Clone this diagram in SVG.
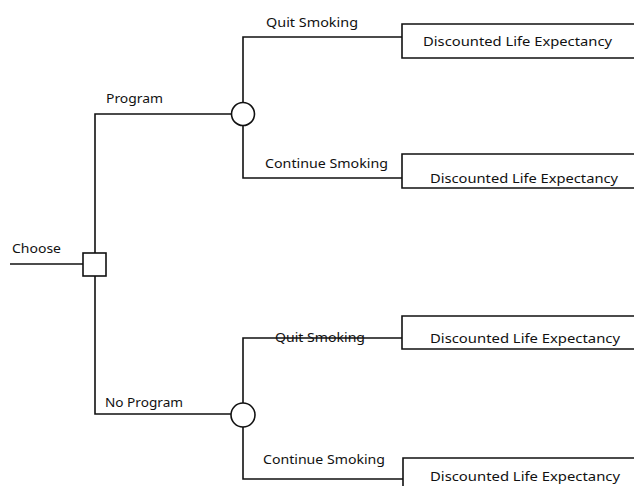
<svg xmlns="http://www.w3.org/2000/svg" width="634" height="486" viewBox="0 0 634 486">
<style>
.ln{fill:none;stroke:#111;stroke-width:1.6}
.nd{fill:#fff;stroke:#111;stroke-width:1.6}
text{font-family:"Noto Sans","Open Sans",sans-serif;font-size:12.5px;fill:#111}
</style>
<rect width="634" height="486" fill="#fff"/>
<g id="connectors">
<path class="ln" d="M10 264H83"/>
<path class="ln" d="M95 253V114H232"/>
<path class="ln" d="M95 276V414H231"/>
<path class="ln" d="M243 103V37H402"/>
<path class="ln" d="M243 125V178H402"/>
<path class="ln" d="M243 403V338H402"/>
<path class="ln" d="M243 427V479H403"/>
<text x="12" y="253" textLength="49" lengthAdjust="spacingAndGlyphs">Choose</text>
<text x="106" y="103" textLength="57" lengthAdjust="spacingAndGlyphs">Program</text>
<text x="105" y="407" textLength="78" lengthAdjust="spacingAndGlyphs">No Program</text>
<text x="266" y="27" textLength="92" lengthAdjust="spacingAndGlyphs">Quit Smoking</text>
<text x="265" y="168" textLength="123" lengthAdjust="spacingAndGlyphs">Continue Smoking</text>
<text x="275" y="342" textLength="90" lengthAdjust="spacingAndGlyphs">Quit Smoking</text>
<text x="263" y="464" textLength="122" lengthAdjust="spacingAndGlyphs">Continue Smoking</text>
</g>
<g id="decision">
<rect class="nd" x="83" y="253" width="23" height="23"/>
</g>
<g id="chance-program">
<circle class="nd" cx="243" cy="114" r="11.5"/>
</g>
<g id="chance-noprogram">
<circle class="nd" cx="243" cy="415" r="12"/>
</g>
<g id="outcome1">
<path class="ln" d="M636 24H402V58H636"/>
<text x="423" y="46" textLength="189" lengthAdjust="spacingAndGlyphs">Discounted Life Expectancy</text>
</g>
<g id="outcome2">
<path class="ln" d="M636 154H402V188H636"/>
<text x="430" y="183" textLength="188" lengthAdjust="spacingAndGlyphs">Discounted Life Expectancy</text>
</g>
<g id="outcome3">
<path class="ln" d="M636 316H402V349H636"/>
<text x="430" y="343" textLength="190" lengthAdjust="spacingAndGlyphs">Discounted Life Expectancy</text>
</g>
<g id="outcome4">
<path class="ln" d="M636 458H403V490"/>
<text x="430" y="481" textLength="190" lengthAdjust="spacingAndGlyphs">Discounted Life Expectancy</text>
</g>
</svg>
